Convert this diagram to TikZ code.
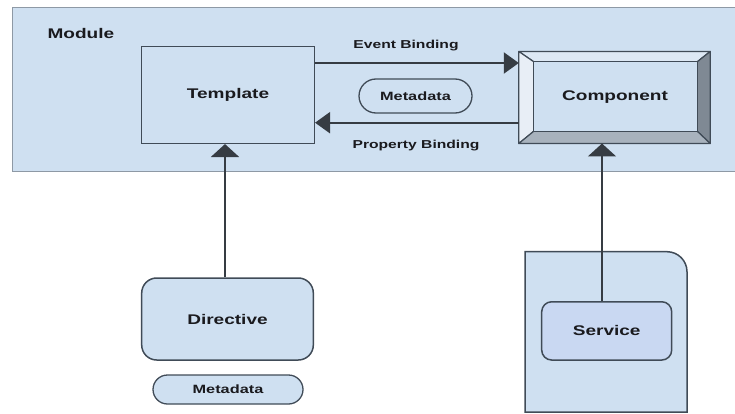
\documentclass[tikz,border=0pt]{standalone}
\usepackage{fontspec}
\setmainfont[FakeStretch=1.36]{Liberation Sans}
\usetikzlibrary{arrows.meta,shapes.misc,calc}
\definecolor{modfill}{HTML}{CFE0F1}
\definecolor{modline}{HTML}{8E99A5}
\definecolor{boxline}{HTML}{404B57}
\definecolor{arrline}{HTML}{363C43}
\definecolor{txt}{HTML}{1A1A1E}
\definecolor{servfill}{HTML}{C9D8F2}
\definecolor{bevtop}{HTML}{DDE8F4}
\definecolor{bevleft}{HTML}{E8EEF6}
\definecolor{bevright}{HTML}{7F8994}
\definecolor{bevbot}{HTML}{A8B2BD}
\begin{document}
\begin{tikzpicture}[x=1pt,y=-1pt,
  lbl/.style={font=\bfseries\fontsize{14}{16}\selectfont, text=txt},
  small/.style={font=\bfseries\fontsize{11.5}{13}\selectfont, text=txt},
  sqbox/.style={draw=boxline, line width=1.5pt, fill=modfill, lbl, inner sep=0pt},
  rbox/.style={sqbox, rounded corners=15pt},
  pill/.style={draw=boxline, line width=1.3pt, fill=modfill, rounded rectangle, inner sep=0pt, font=\bfseries\fontsize{12}{14}\selectfont, text=txt},
  arrv/.style={draw=arrline, line width=2.2pt, -{Triangle[length=13pt, width=28pt]}},
  arrh/.style={draw=arrline, line width=2.2pt, -{Triangle[length=15pt, width=21pt]}}
]
\useasboundingbox (0,0) rectangle (735,414);
% module
\fill[modfill] (12.7,7.3) rectangle (737,171.5);
\draw[modline, line width=1pt] (737,7.3) -- (12.7,7.3) -- (12.7,171.5) -- (737,171.5);
\node[lbl, anchor=west] (modlbl) at (44,33) {Module};
% template
\node[sqbox, minimum width=172.6pt, minimum height=96.6pt] (tpl) at (228,95) {Template};
% component bevelled box
\node[minimum width=191pt, minimum height=91.6pt, inner sep=0pt] (comp) at (614.5,97.5) {};
\coordinate (oTL) at (comp.north west);
\coordinate (oTR) at (comp.north east);
\coordinate (oBL) at (comp.south west);
\coordinate (oBR) at (comp.south east);
\coordinate (iTL) at ($(oTL)+(15,10.3)$);
\coordinate (iTR) at ($(oTR)+(-13,10.3)$);
\coordinate (iBL) at ($(oBL)+(15,-12.3)$);
\coordinate (iBR) at ($(oBR)+(-13,-12.3)$);
\begin{scope}[draw=boxline, line width=1.2pt, line join=round]
\filldraw[fill=bevtop] (oTL) -- (oTR) -- (iTR) -- (iTL) -- cycle;
\filldraw[fill=bevleft] (oTL) -- (iTL) -- (iBL) -- (oBL) -- cycle;
\filldraw[fill=bevright] (oTR) -- (oBR) -- (iBR) -- (iTR) -- cycle;
\filldraw[fill=bevbot] (oBL) -- (iBL) -- (iBR) -- (oBR) -- cycle;
\filldraw[fill=modfill] (iTL) rectangle (iBR);
\end{scope}
\node[lbl] (complbl) at (615,97) {Component};
% bindings
\draw[arrh] (tpl.east |- 0,63) -- (comp.west |- 0,63);
\draw[arrh] (comp.west |- 0,122.7) -- (tpl.east |- 0,122.7);
\node[small] (evt) at (406,46) {Event Binding};
\node[small] (prop) at (416,146) {Property Binding};
\node[pill, minimum width=113pt, minimum height=34pt] (meta1) at (415.5,96) {Metadata};
% directive
\node[rbox, minimum width=171.6pt, minimum height=82pt] (dir) at (227.5,319) {Directive};
\node[pill, minimum width=150pt, minimum height=29pt] (meta2) at (228,389.5) {Metadata};
% service container
\draw[draw=boxline, line width=1.5pt, fill=modfill] (525,412) -- (525,251.7) -- (667,251.7) .. controls (678,251.7) and (687,260.7) .. (687,271.7) -- (687,412) -- cycle;
\node[sqbox, fill=servfill, rounded corners=10pt, minimum width=130pt, minimum height=58.3pt] (serv) at (606.7,330.9) {Service};
% vertical arrows
\draw[arrv] (dir.north -| 225,0) -- (tpl.south -| 225,0);
\draw[arrv] (serv.north -| 602,0) -- (comp.south -| 602,0);
\end{tikzpicture}
\end{document}
